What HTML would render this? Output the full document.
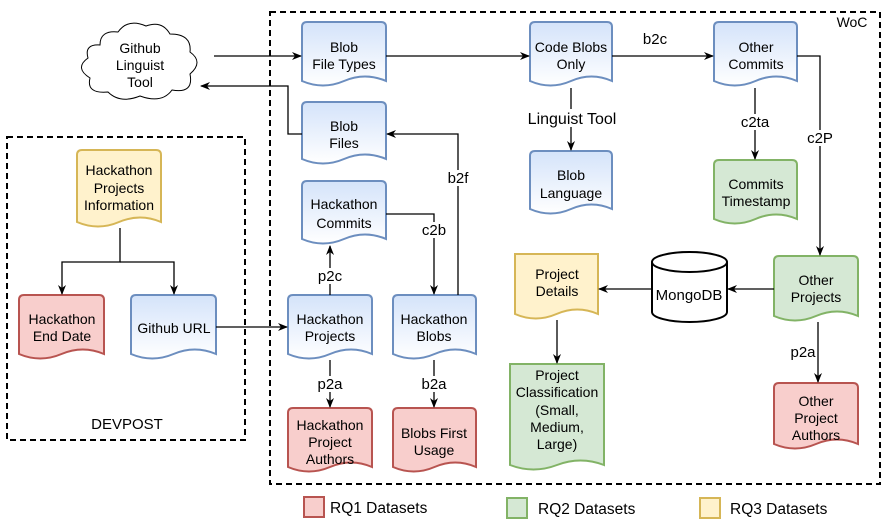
<!DOCTYPE html>
<html><head><meta charset="utf-8"><style>
html,body{margin:0;padding:0;background:#fff}
svg{display:block;font-family:"Liberation Sans",Arial,sans-serif;font-size:14px}
text{text-anchor:middle;fill:#000}
.e{font-size:15px}
.l{font-size:15.5px;text-anchor:start}
</style></head><body>
<svg id="s" width="892" height="526" viewBox="0 0 892 526" xmlns="http://www.w3.org/2000/svg">
<defs>
<linearGradient id="gb" x1="0" y1="0" x2="0" y2="1"><stop offset="0" stop-color="#d4e3fa"/><stop offset="1" stop-color="#ffffff"/></linearGradient>
<marker id="a" markerWidth="10" markerHeight="10" refX="9" refY="5" orient="auto" markerUnits="userSpaceOnUse"><path d="M0,1 L10,5 L0,9 L3,5 Z" fill="#000"/></marker>
</defs>
<rect x="270" y="12" width="610" height="472" fill="none" stroke="#000" stroke-width="2" stroke-dasharray="6,4"/>
<rect x="7" y="137" width="238" height="303" fill="none" stroke="#000" stroke-width="2" stroke-dasharray="6,4"/>
<g id="shapes"></g>
<path d="M100,45 Q100,30 118,32 Q128,18 146,26 Q162,20 170,34 Q192,34 190,52 Q204,62 190,74 Q194,94 172,90 Q162,104 140,96 Q120,104 108,92 Q86,94 90,78 Q74,68 88,58 Q84,44 100,45 Z" fill="#fff" stroke="#000" stroke-width="1"/>
<path d="M652,262 L652,312 A37.5,10 0 0 0 727,312 L727,262" fill="#fff" stroke="#000" stroke-width="2"/>
<ellipse cx="689.5" cy="262" rx="37.5" ry="10" fill="#fff" stroke="#000" stroke-width="2"/>
<g stroke="#000" stroke-width="1.3" fill="none" marker-end="url(#a)">
<path d="M214,56 H301"/><path d="M386,56 H529"/><path d="M612,56 H713"/>
<path d="M571,88 V150"/><path d="M755,88 V159"/><path d="M797,56 H820 V255"/>
<path d="M302,134 H288 V86 H201"/><path d="M458,295 V134 H387"/>
<path d="M386,214 H434 V294"/><path d="M330,295 V246"/>
<path d="M330,360 V407"/><path d="M434,360 V407"/>
<path d="M216,327 H287"/><path d="M120,228 V262 H62 V294"/><path d="M120,262 H174 V294"/>
<path d="M774,289 H728"/><path d="M652,289 H599"/><path d="M557,320 V363"/><path d="M818,322 V382"/>
</g>
<g>
<rect x="638" y="31" width="34" height="16" fill="#fff"/><text class="e" x="655" y="44">b2c</text>
<rect x="525" y="109" width="94" height="18" fill="#fff"/><text class="e" x="572" y="124" style="font-size:16px">Linguist Tool</text>
<rect x="738" y="114" width="34" height="16" fill="#fff"/><text class="e" x="755" y="127">c2ta</text>
<rect x="804" y="130" width="32" height="16" fill="#fff"/><text class="e" x="820" y="143">c2P</text>
<rect x="444" y="170" width="28" height="16" fill="#fff"/><text class="e" x="458" y="183">b2f</text>
<rect x="420" y="222" width="28" height="16" fill="#fff"/><text class="e" x="434" y="235">c2b</text>
<rect x="316" y="268" width="28" height="16" fill="#fff"/><text class="e" x="330" y="281">p2c</text>
<rect x="316" y="376" width="28" height="16" fill="#fff"/><text class="e" x="330" y="389">p2a</text>
<rect x="420" y="376" width="28" height="16" fill="#fff"/><text class="e" x="434" y="389">b2a</text>
<text class="e" x="803" y="357">p2a</text>
<text x="140" y="53">Github</text><text x="140" y="70">Linguist</text><text x="140" y="87">Tool</text>
<text x="689" y="300" style="font-size:15px">MongoDB</text>
<text x="852" y="27">WoC</text><text x="127" y="429" style="font-size:15px">DEVPOST</text>
<text x="344" y="52">Blob</text><text x="344" y="69">File Types</text>
<text x="344" y="131">Blob</text><text x="344" y="148">Files</text>
<text x="344" y="209">Hackathon</text><text x="344" y="228">Commits</text>
<text x="571" y="52">Code Blobs</text><text x="571" y="69">Only</text>
<text x="571" y="180">Blob</text><text x="571" y="198">Language</text>
<text x="756" y="52">Other</text><text x="756" y="69">Commits</text>
<text x="756" y="189">Commits</text><text x="756" y="206">Timestamp</text>
<text x="816" y="285">Other</text><text x="816" y="302">Projects</text>
<text x="557" y="279">Project</text><text x="557" y="296">Details</text>
<text x="557" y="380">Project</text><text x="557" y="397">Classification</text><text x="557" y="415">(Small,</text><text x="557" y="432">Medium,</text><text x="557" y="449">Large)</text>
<text x="816" y="406">Other</text><text x="816" y="423">Project</text><text x="816" y="440">Authors</text>
<text x="330" y="324">Hackathon</text><text x="330" y="341">Projects</text>
<text x="434" y="324">Hackathon</text><text x="434" y="341">Blobs</text>
<text x="330" y="430">Hackathon</text><text x="330" y="447">Project</text><text x="330" y="464">Authors</text>
<text x="434" y="438">Blobs First</text><text x="434" y="455">Usage</text>
<text x="119" y="175">Hackathon</text><text x="119" y="193">Projects</text><text x="119" y="210">Information</text>
<text x="62" y="324">Hackathon</text><text x="62" y="341">End Date</text>
<text x="174" y="333">Github URL</text>
<rect x="304" y="497" width="20" height="20" fill="#f8cecc" stroke="#b85450" stroke-width="2"/><text class="l" x="330" y="513">RQ1 Datasets</text>
<rect x="507" y="498" width="20" height="20" fill="#d5e8d4" stroke="#82b366" stroke-width="2"/><text class="l" x="538" y="514">RQ2 Datasets</text>
<rect x="700" y="498" width="20" height="20" fill="#fff2cc" stroke="#d6b656" stroke-width="2"/><text class="l" x="730" y="514">RQ3 Datasets</text>
</g>
</svg>
<script>
var C={b:["url(#gb)","#6c8ebf"],g:["#d5e8d4","#82b366"],r:["#f8cecc","#b85450"],y:["#fff2cc","#d6b656"]};
var N=[[302,22,84,66,"b",5],[302,102,84,64,"b",5],[302,181,84,65,"b",5],[530,22,82,66,"b",5],[530,151,82,65,"b",5],
[714,22,83,66,"b",5],[714,160,83,66,"g",5],[774,256,84,67,"g",5],[515,254,83,67,"y",0],[510,364,94,108,"g",0],
[774,383,84,68,"r",5],[288,295,84,66,"b",5],[393,295,83,66,"b",5],[288,408,84,66,"r",5],[393,408,83,66,"r",5],
[77,150,84,79,"y",5],[19,295,85,66,"r",5],[131,295,85,66,"b",5]];
var g=document.getElementById("shapes"),h="";
N.forEach(function(n){var x=n[0],y=n[1],w=n[2],H=n[3],r=n[5],c=C[n[4]],b=y+H-7;
var d="M"+x+","+(y+r)+(r?" Q"+x+","+y+" "+(x+r)+","+y:"")+" H"+(x+w-r)+(r?" Q"+(x+w)+","+y+" "+(x+w)+","+(y+r):"")+
" V"+b+" Q"+(x+w*0.75)+","+(b-9)+" "+(x+w/2)+","+b+" Q"+(x+w*0.25)+","+(b+9)+" "+x+","+b+" Z";
h+='<path d="'+d+'" fill="'+c[0]+'" stroke="'+c[1]+'" stroke-width="2"/>';});
g.innerHTML=h;
</script>
</body></html>
